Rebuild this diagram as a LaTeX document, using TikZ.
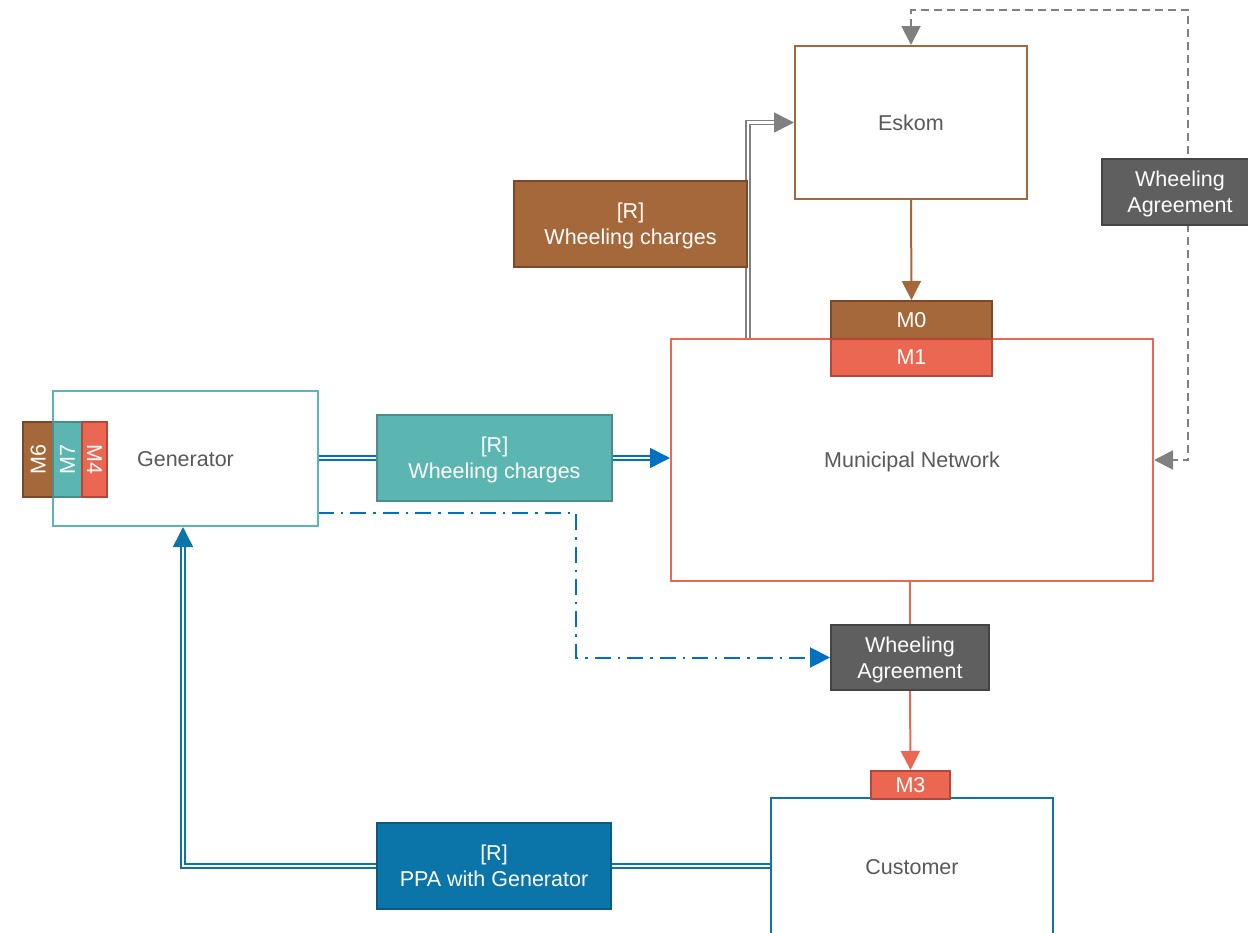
\documentclass[tikz,border=0pt]{standalone}
\usepackage{fontspec}
\setmainfont{Liberation Sans}
\usetikzlibrary{arrows.meta,backgrounds}
\definecolor{brownfill}{HTML}{A5683A}
\definecolor{brownedge}{HTML}{7A4A28}
\definecolor{tealfill}{HTML}{5BB6B1}
\definecolor{tealedge}{HTML}{4A8E8A}
\definecolor{coralfill}{HTML}{EC6752}
\definecolor{coraledge}{HTML}{B5473A}
\definecolor{darkfill}{HTML}{5F5F5F}
\definecolor{darkedge}{HTML}{444444}
\definecolor{ppafill}{HTML}{0B74A8}
\definecolor{ppaedge}{HTML}{0A5A83}
\definecolor{linkblue}{HTML}{0070C0}
\definecolor{linkgray}{HTML}{808080}
\definecolor{textgray}{HTML}{595959}

\tikzset{
  box/.style={rectangle, inner sep=0pt, line width=1pt, align=center,
    text depth=0pt, font=\fontsize{10.75}{13}\selectfont},
  openbox/.style={box, fill=white, text=textgray},
  tag/.style={box, text=white},
  single/.style={line width=1pt, -{Triangle[length=9.5pt,width=9.5pt]}},
  twin/.style={line width=0.75pt, double=white, double distance=1.2pt},
  tip/.style={-{Triangle[length=10pt,width=10pt]}},
}

\begin{document}
\begin{tikzpicture}[x=0.5pt,y=-0.5pt]
\useasboundingbox (0,0) rectangle (1248,932);
% main boxes
\node[openbox, draw=brownfill, minimum width=116pt, minimum height=76.5pt] (eskom) at (911,122.5) {Eskom};
\node[openbox, draw=coralfill, minimum width=241pt, minimum height=121pt] (muni) at (912,460) {Municipal Network};
\node[openbox, draw=tealfill, minimum width=132.5pt, minimum height=67.5pt] (gen) at (185.5,458.5) {Generator};
\node[openbox, draw=ppafill, minimum width=141pt, minimum height=69pt] (cust) at (912,867) {Customer};
% labels
\node[tag, fill=brownfill, draw=brownedge, minimum width=116.5pt, minimum height=43pt] (eskcharges) at (630.5,224) {[R]\\Wheeling charges};
\node[tag, fill=tealfill, draw=tealedge, minimum width=117.5pt, minimum height=43pt] (gencharges) at (494.5,458) {[R]\\Wheeling charges};
\node[tag, fill=ppafill, draw=ppaedge, minimum width=117pt, minimum height=43pt] (ppa) at (494,866) {[R]\\PPA with Generator};
\node[tag, fill=darkfill, draw=darkedge, minimum width=78pt, minimum height=33pt] (watop) at (1180,192) {Wheeling\\Agreement};
\node[tag, fill=darkfill, draw=darkedge, minimum width=79pt, minimum height=32.5pt] (wamid) at (910,657.5) {Wheeling\\Agreement};
% meters
\node[tag, fill=brownfill, draw=brownedge, minimum width=80.5pt, minimum height=19pt] (m0) at (911.5,320) {M0};
\node[tag, fill=coralfill, draw=coraledge, minimum width=80.5pt, minimum height=18.5pt] (m1) at (911.5,357.5) {M1};
\node[tag, fill=coralfill, draw=coraledge, minimum width=39.5pt, minimum height=14pt] (m3) at (910.5,785) {M3};
\node[tag, fill=brownfill, draw=brownedge, minimum width=15pt, minimum height=37.5pt] (m6) at (38,459.5) {};
\node[tag, rotate=90] at (m6) {M6};
\node[tag, fill=tealfill, draw=tealedge, minimum width=14.5pt, minimum height=37.5pt] (m7) at (67.5,459.5) {};
\node[tag, rotate=90] at (m7) {M7};
\node[tag, fill=coralfill, draw=coraledge, minimum width=12.5pt, minimum height=37.5pt] (m4) at (94.5,459.5) {};
\node[tag, rotate=-90] at (m4) {M4};

\coordinate (riser) at (748,339);
\coordinate (dashtop) at (1188,10);
\coordinate (dashstart) at (318,513);

\begin{scope}[on background layer]
\draw[single, brownfill] (eskom.south) -- (m0.north);
\draw[twin, linkgray, tip] (riser) |- (eskom.west);
\draw[twin, linkblue] (gen.east |- gencharges) -- (gencharges.west);
\draw[twin, linkblue, tip] (gencharges.east) -- (gencharges.east -| muni.west);
\draw[line width=1pt, linkblue, tip, dash pattern=on 8pt off 3.5pt on 1.2pt off 3.5pt]
  (dashstart) -- ++(258,0) |- (wamid.west);
\draw[line width=1pt, coralfill] (muni.south -| wamid) -- (wamid.north);
\draw[single, coralfill] (wamid.south) -- (m3.north);
\draw[line width=1pt, linkgray, dash pattern=on 4pt off 2.5pt,
  {Triangle[length=9.5pt,width=9.5pt]}-{Triangle[length=9.5pt,width=9.5pt]}]
  (eskom.north) |- (dashtop) |- (muni.east);
\draw[twin, ppafill] (cust.west |- ppa) -- (ppa.east);
\draw[twin, ppafill, tip] (ppa.west) -| ([xshift=-1.25pt]gen.south);
\end{scope}
\end{tikzpicture}
\end{document}
